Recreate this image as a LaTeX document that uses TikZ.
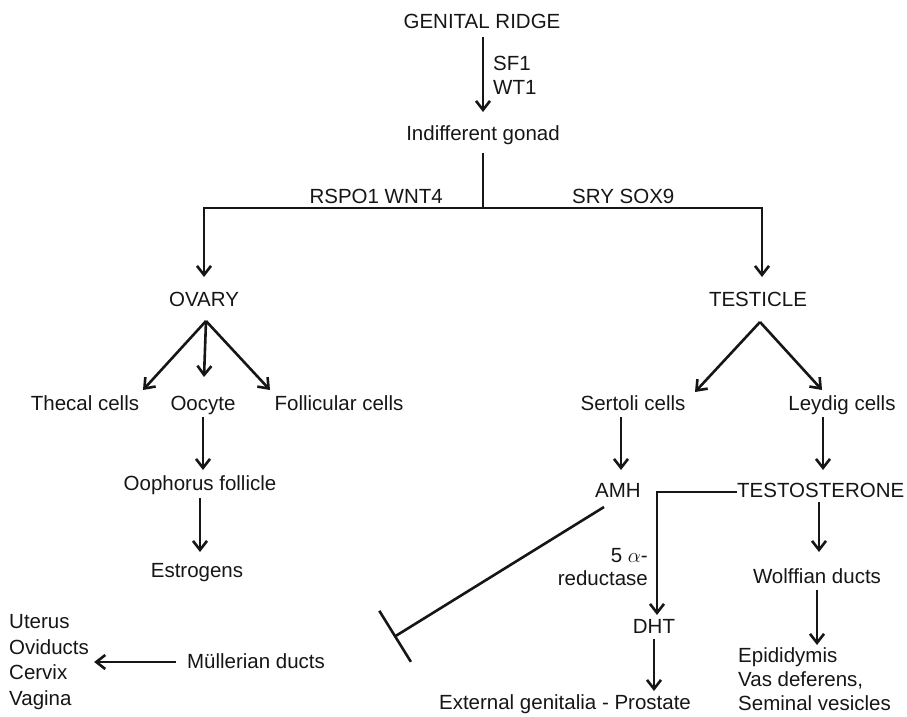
\documentclass[tikz,border=0pt]{standalone}
\usepackage{fontspec}
\setmainfont{Liberation Sans}
\usetikzlibrary{arrows.meta,calc}
\definecolor{ink}{HTML}{161616}
\begin{document}
\begin{tikzpicture}[x=1pt,y=-1pt,
  t/.style={inner sep=0pt,anchor=base,text=ink,font=\fontsize{20.5}{25}\selectfont},
  lin/.style={draw=ink,line width=2.6pt},
  arr/.style={lin,-{Straight Barb[length=9pt,width=14pt]}},
  inh/.style={lin,-{Bar[width=60pt]}}]
\useasboundingbox (0,0) rectangle (907,717);
% nodes
\node[t] (gr) at (482,29) {GENITAL RIDGE};
\node[t,anchor=base west,align=left,font=\fontsize{20.5}{24}\selectfont] (sf) at (493,94) {SF1\\WT1};
\node[t] (ig) at (483,140) {Indifferent gonad};
\node[t,anchor=base east] (rs) at (443,203) {RSPO1 WNT4};
\node[t,anchor=base west] (sr) at (572,203) {SRY SOX9};
\node[t] (ov) at (204,306) {OVARY};
\node[t] (te) at (758,306) {TESTICLE};
\node[t] (th) at (85,410) {Thecal cells};
\node[t] (oc) at (203,410) {Oocyte};
\node[t] (fo) at (339,410) {Follicular cells};
\node[t] (oo) at (200,490) {Oophorus follicle};
\node[t] (es) at (197,577) {Estrogens};
\node[t,anchor=base west,align=left,font=\fontsize{20.5}{25.5}\selectfont] (ut) at (9,705) {Uterus\\Oviducts\\Cervix\\Vagina};
\node[t] (mu) at (256,668) {Müllerian ducts};
\node[t] (se) at (633,410) {Sertoli cells};
\node[t] (le) at (842,410) {Leydig cells};
\node[t] (amh) at (618,497) {AMH};
\node[t,anchor=base west] (ts) at (737,497) {TESTOSTERONE};
\node[t,anchor=base east,align=right,font=\fontsize{20.5}{23}\selectfont] (al) at (648,585) {5 $\alpha$-\\reductase};
\node[t] (dht) at (654,633) {DHT};
\node[t] (ext) at (565,709) {External genitalia - Prostate};
\node[t] (wo) at (817,583) {Wolffian ducts};
\node[t,anchor=base west,align=left,font=\fontsize{20.5}{24}\selectfont] (ep) at (738,710) {Epididymis\\Vas deferens,\\Seminal vesicles};
\coordinate (sp) at (483,208);
\coordinate (inhend) at (394,637);
% connectors
\draw[arr] ($(gr.base)+(1,8)$) -- ($(ig.base)+(0,-28)$);
\draw[lin] ($(ig.base)+(0,13)$) -- (sp);
\draw[arr] (sp) -| ($(ov.base)+(0,-29)$);
\draw[arr] (sp) -| ($(te.base)+(4,-29)$);
\draw[arr] ($(ov.base)+(2,15)$) -- ($(th.base)+(58,-20)$);
\draw[arr] ($(ov.base)+(2,15)$) -- ($(oc.base)+(1,-33)$);
\draw[arr] ($(ov.base)+(2,15)$) -- ($(fo.base)+(-69,-20)$);
\draw[arr] ($(oc.base)+(0,7)$) -- ($(oo.base)+(3,-20)$);
\draw[arr] ($(oo.base)+(0,8)$) -- ($(es.base)+(3,-25)$);
\draw[arr] ($(mu.base west)+(-11,-6)$) -- ($(ut.east |- mu.base)+(5,-6)$);
\draw[inh] ($(amh.base)+(-14,10)$) -- (inhend);
\draw[arr] ($(te.base)+(2,16)$) -- ($(se.base)+(62,-18)$);
\draw[arr] ($(te.base)+(2,16)$) -- ($(le.base)+(-20,-20)$);
\draw[arr] ($(se.base)+(-12,7)$) -- ($(amh.base)+(3,-27)$);
\draw[arr] ($(le.base)+(-19,7)$) -- ($(ts.base west)+(86,-27)$);
\draw[arr] ($(ts.base west)+(0,-5)$) -| ($(dht.base)+(3,-18)$);
\draw[arr] ($(dht.base)+(0,6)$) -- ($(ext.base)+(89,-18)$);
\draw[arr] ($(ts.base west)+(82,5)$) -- ($(wo.base)+(2,-31)$);
\draw[arr] ($(wo.base)+(0,7)$) -- ($(ep.north west)+(79,-2)$);
\end{tikzpicture}
\end{document}
